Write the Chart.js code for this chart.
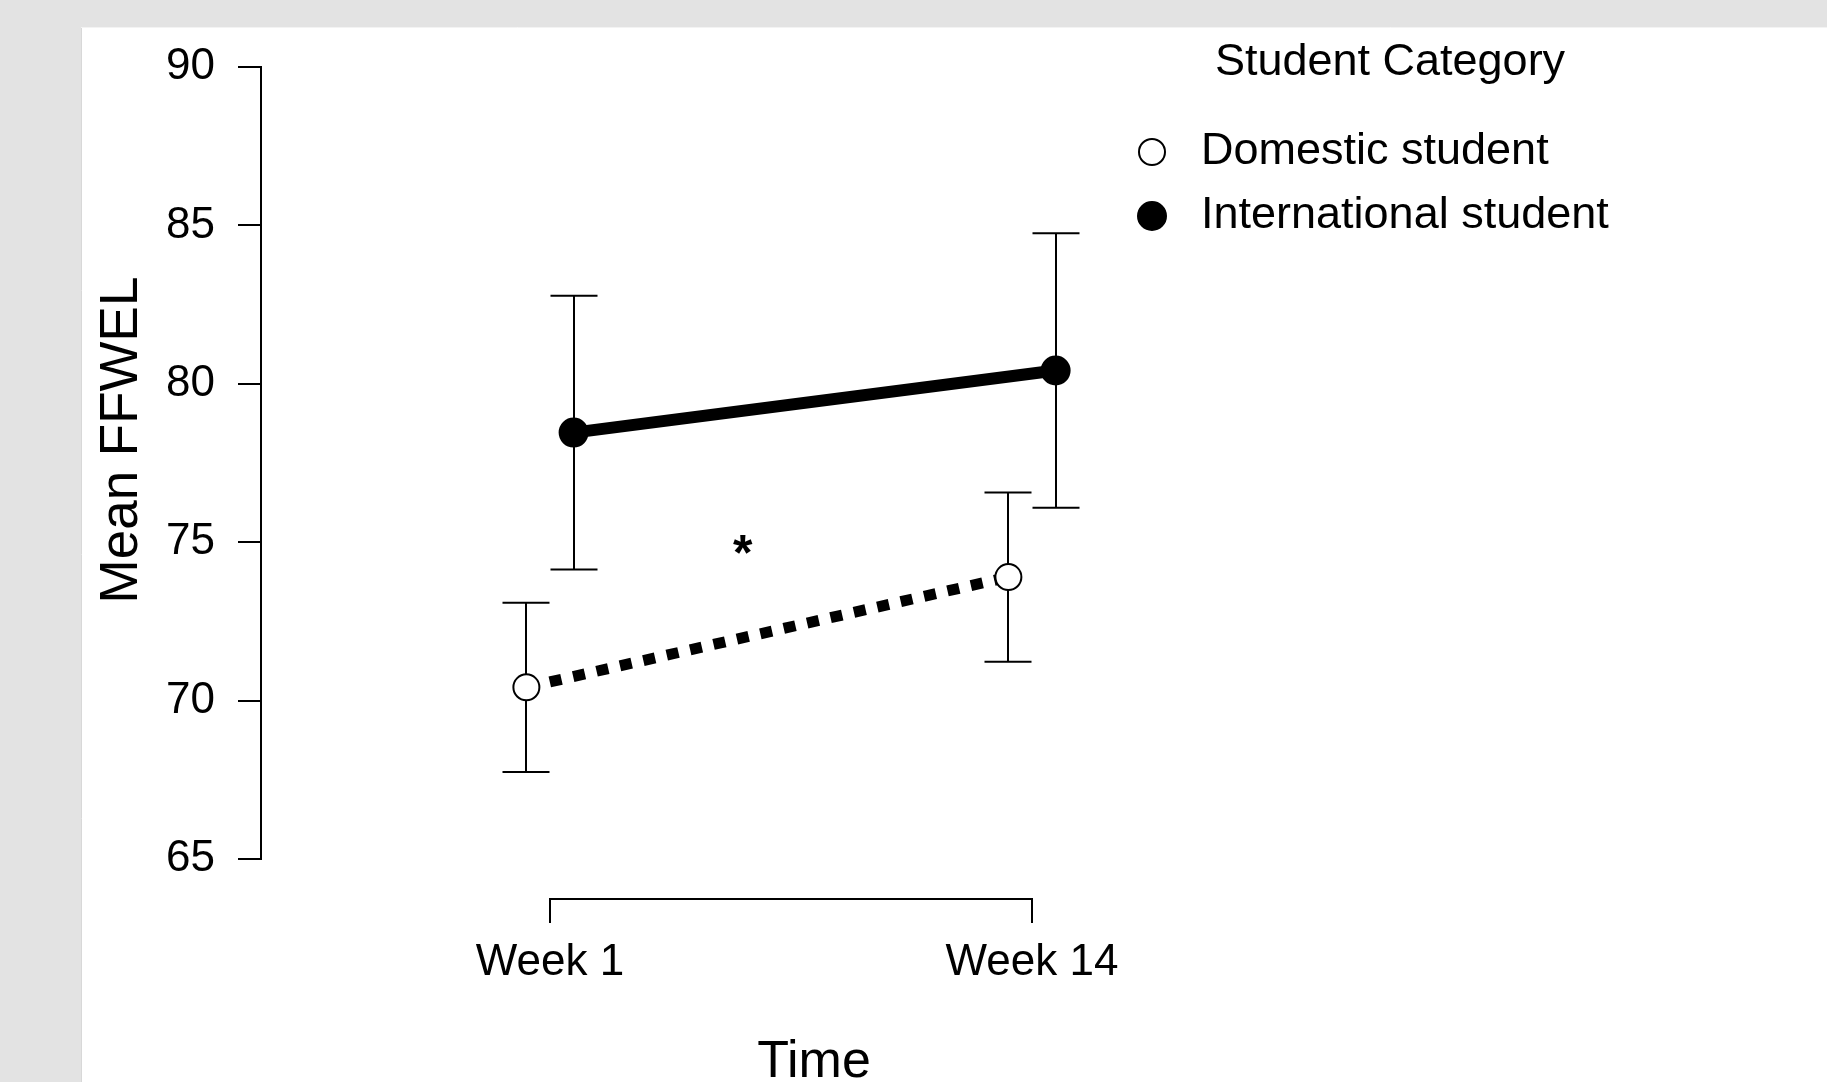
<!DOCTYPE html>
<html>
<head>
<meta charset="utf-8">
<script src="https://cdn.jsdelivr.net/npm/chart.js@4.4.1/dist/chart.umd.min.js"></script>
<style>
  html, body { margin: 0; padding: 0; background: #e3e3e3; }
  #wrap { width: 1827px; height: 1082px; }
  canvas { display: block; }
</style>
</head>
<body>
<div id="wrap"><canvas id="chart" width="1827" height="1082"></canvas></div>
<script>
// ---- data ----
const weeks = ['Week 1', 'Week 14'];
const seriesNames = ['Domestic student', 'International student'];
const domesticMean = [70.42, 73.90];
const domesticErr = [2.67, 2.67];
const internationalMean = [78.46, 80.42];
const internationalErr = [4.32, 4.33];
const yTicks = [65, 70, 75, 80, 85, 90];
const legendTitle = 'Student Category';
const yTitle = 'Mean FFWEL';
const xTitle = 'Time';
const sigMark = '*';
const sigAt = { x: 1.4, y: 75 };

// ---- styling / layout ----
const FONT = '"Liberation Sans", Arial, Helvetica, sans-serif';
const DODGE = 0.049;          // horizontal offset of the two groups, in week units
const CAP = 23.5;             // half width of error-bar caps (px)

const errorBars = {
  id: 'errorBars',
  beforeDatasetsDraw(chart) {
    const { ctx, scales: { x, y } } = chart;
    ctx.save();
    ctx.strokeStyle = '#000';
    ctx.lineWidth = 2;
    chart.data.datasets.forEach(ds => {
      ds.data.forEach((p, i) => {
        const px = Math.round(x.getPixelForValue(p.x));
        const top = y.getPixelForValue(p.y + ds.err[i]);
        const bot = y.getPixelForValue(p.y - ds.err[i]);
        ctx.beginPath();
        ctx.moveTo(px, top); ctx.lineTo(px, bot);
        ctx.moveTo(px - CAP, top); ctx.lineTo(px + CAP, top);
        ctx.moveTo(px - CAP, bot); ctx.lineTo(px + CAP, bot);
        ctx.stroke();
      });
    });
    ctx.restore();
  }
};

const panel = {
  id: 'panel',
  beforeDraw(chart) {
    const { ctx, width, height } = chart;
    ctx.save();
    ctx.fillStyle = '#e3e3e3';
    ctx.fillRect(0, 0, width, height);
    ctx.fillStyle = '#ffffff';
    ctx.fillRect(81, 27, width - 81, height - 27);
    ctx.strokeStyle = '#d8d8d8';
    ctx.lineWidth = 1;
    ctx.beginPath();
    ctx.moveTo(81.5, 27); ctx.lineTo(81.5, height);
    ctx.stroke();
    ctx.strokeStyle = '#f3f3f3';
    ctx.beginPath();
    ctx.moveTo(81, 27.5); ctx.lineTo(width, 27.5);
    ctx.stroke();
    ctx.restore();
  }
};

// bracket-style x axis spanning the two time points
const bracketAxis = {
  id: 'bracketAxis',
  afterDraw(chart) {
    const { ctx, scales: { x }, chartArea } = chart;
    const yLine = chartArea.bottom + 40;
    const tick = 24;
    const xs = weeks.map((w, i) => Math.round(x.getPixelForValue(i + 1)));
    ctx.save();
    ctx.strokeStyle = '#000';
    ctx.lineWidth = 2;
    ctx.beginPath();
    ctx.moveTo(xs[0], yLine + tick);
    ctx.lineTo(xs[0], yLine);
    ctx.lineTo(xs[xs.length - 1], yLine);
    ctx.lineTo(xs[xs.length - 1], yLine + tick);
    ctx.stroke();
    ctx.restore();
  }
};

const annotations = {
  id: 'annotations',
  afterDraw(chart) {
    const { ctx, scales: { x, y } } = chart;
    ctx.save();
    ctx.fillStyle = '#000';
    // significance marker
    ctx.font = `bold 50px ${FONT}`;
    ctx.textAlign = 'center';
    ctx.textBaseline = 'alphabetic';
    ctx.fillText(sigMark, x.getPixelForValue(sigAt.x), y.getPixelForValue(sigAt.y) + 0.56 * 50);
    // y axis title
    ctx.font = `53px ${FONT}`;
    ctx.textBaseline = 'middle';
    ctx.translate(122, 440);
    ctx.rotate(-Math.PI / 2);
    ctx.fillText(yTitle, 0, 0);
    ctx.restore();
  }
};

const sideLegend = {
  id: 'sideLegend',
  afterDraw(chart) {
    const { ctx } = chart;
    ctx.save();
    ctx.fillStyle = '#000';
    ctx.font = `45px ${FONT}`;
    ctx.textBaseline = 'middle';
    ctx.textAlign = 'center';
    ctx.fillText(legendTitle, 1390, 63);
    chart.data.datasets.forEach((ds, i) => {
      const cy = 152 + i * 64;
      ctx.beginPath();
      ctx.arc(1152, cy, ds.pointRadius, 0, Math.PI * 2);
      ctx.fillStyle = ds.pointBackgroundColor;
      ctx.fill();
      ctx.lineWidth = ds.pointBorderWidth;
      ctx.strokeStyle = ds.pointBorderColor;
      ctx.stroke();
      ctx.fillStyle = '#000';
      ctx.textAlign = 'left';
      ctx.fillText(ds.label, 1201, cy);
    });
    ctx.restore();
  }
};

const datasets = [
  {
    label: seriesNames[0],
    data: weeks.map((w, i) => ({ x: i + 1 - DODGE, y: domesticMean[i] })),
    err: domesticErr,
    borderColor: '#000',
    borderWidth: 11,
    borderDash: [12, 12],
    pointRadius: 13,
    pointBorderWidth: 2,
    pointBackgroundColor: '#ffffff',
    pointBorderColor: '#000',
    tension: 0,
    fill: false
  },
  {
    label: seriesNames[1],
    data: weeks.map((w, i) => ({ x: i + 1 + DODGE, y: internationalMean[i] })),
    err: internationalErr,
    borderColor: '#000',
    borderWidth: 12,
    pointRadius: 14,
    pointBorderWidth: 2,
    pointBackgroundColor: '#000',
    pointBorderColor: '#000',
    tension: 0,
    fill: false
  }
];

new Chart(document.getElementById('chart'), {
  type: 'line',
  data: { datasets },
  plugins: [panel, errorBars, bracketAxis, annotations, sideLegend],
  options: {
    responsive: false,
    devicePixelRatio: 1,
    animation: false,
    layout: { padding: { top: 67, left: 81, right: 460, bottom: 0 } },
    plugins: {
      legend: { display: false },
      tooltip: { enabled: false }
    },
    scales: {
      x: {
        type: 'linear',
        position: 'bottom',
        bounds: 'data',
        min: 0.40041,
        max: 2.69502,
        afterBuildTicks: (scale) => { scale.ticks = weeks.map((w, i) => ({ value: i + 1 })); },
        afterFit: (scale) => { scale.height = 223; },
        grid: { display: false, drawTicks: false },
        border: { display: false },
        ticks: {
          padding: 77,
          color: '#000',
          font: { family: FONT, size: 44 },
          maxRotation: 0,
          autoSkip: false,
          callback: (v, i) => weeks[i]
        },
        title: {
          display: true,
          text: xTitle,
          color: '#000',
          font: { family: FONT, size: 52, lineHeight: 0.75 },
          padding: { top: 0, bottom: 0 }
        }
      },
      y: {
        type: 'linear',
        position: 'left',
        min: yTicks[0],
        max: yTicks[yTicks.length - 1],
        afterBuildTicks: (scale) => { scale.ticks = yTicks.map(v => ({ value: v })); },
        afterFit: (scale) => { scale.width = 180; },
        grid: {
          display: true,
          drawOnChartArea: false,
          drawTicks: true,
          tickLength: 23,
          color: '#000',
          lineWidth: 2
        },
        border: { display: true, color: '#000', width: 2 },
        ticks: {
          padding: 23,
          color: '#000',
          font: { family: FONT, size: 44 },
          callback: (v) => String(v)
        }
      }
    }
  }
});
</script>
</body>
</html>
